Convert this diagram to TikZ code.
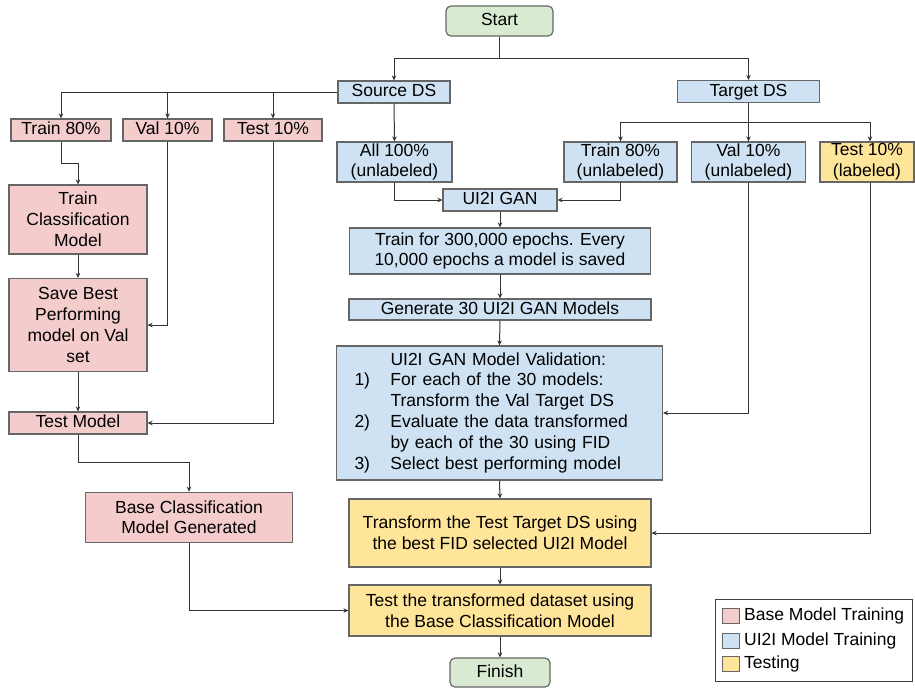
\documentclass[tikz,border=0pt]{standalone}
\usepackage{fontspec}
\setmainfont{Liberation Sans}
\usetikzlibrary{arrows.meta}
\definecolor{pinkc}{HTML}{F4CCCC}
\definecolor{bluec}{HTML}{CFE2F3}
\definecolor{yellowc}{HTML}{FFE599}
\definecolor{greenc}{HTML}{D9EAD3}
\definecolor{edgec}{HTML}{666666}
\definecolor{linec}{HTML}{333333}
\begin{document}
\begin{tikzpicture}[x=1pt,y=-1pt,
  font=\fontsize{17.5}{20.8}\selectfont,
  boxbase/.style={draw=edgec, line width=1.2pt, align=center, inner xsep=3pt, inner ysep=1pt, text=black},
  pinkbox/.style={boxbase, fill=pinkc},
  bluebox/.style={boxbase, fill=bluec},
  yellowbox/.style={boxbase, fill=yellowc},
  termbox/.style={boxbase, fill=greenc, rounded corners=5pt},
  sz/.style 2 args={minimum width=#1, minimum height=#2},
  oneline/.style={text height=12.5pt, text depth=3.5pt},
  conn/.style={draw=linec, line width=1pt, -{Stealth[length=5pt,width=4.5pt]}},
  swatch/.style={draw=edgec, line width=1pt, inner sep=0pt, minimum width=17, minimum height=15}]

\useasboundingbox (0,0) rectangle (915,688);

% top
\node[termbox, sz={107}{30}, oneline] (start) at (499.5,21) {Start};
\node[bluebox, sz={112}{22}, oneline] (srcds) at (394,92) {Source DS};
\node[bluebox, sz={142}{22}, oneline] (tgtds) at (748.5,91.5) {Target DS};

% source splits
\node[pinkbox, sz={100}{22}, oneline] (ltrain) at (61,130) {Train 80\%};
\node[pinkbox, sz={89}{22}, oneline] (lval) at (167.5,130) {Val 10\%};
\node[pinkbox, sz={98}{22}, oneline] (ltest) at (273,130) {Test 10\%};
\node[bluebox, sz={115}{40}] (all) at (394.5,162) {All 100\%\\(unlabeled)};

% target splits
\node[bluebox, sz={113}{40}] (tr80u) at (620.5,162) {Train 80\%\\(unlabeled)};
\node[bluebox, sz={114}{40}] (val10u) at (748.5,162) {Val 10\%\\(unlabeled)};
\node[yellowbox, sz={94}{40}] (test10l) at (867,162) {Test 10\%\\(labeled)};

% main column
\node[bluebox, sz={114}{22}, oneline] (gan) at (500,200) {UI2I GAN};
\node[bluebox, sz={301}{46}] (train300) at (500,251) {Train for 300,000 epochs. Every\\10,000 epochs a model is saved};
\node[bluebox, sz={302}{21}, oneline] (gen30) at (500,309.5) {Generate 30 UI2I GAN Models};
\node[bluebox, sz={325}{134}, text width=290pt, inner xsep=18pt, align=left] (valid) at (499.5,413)
  {\begin{tabular}{@{}p{36pt}@{}l@{}}
    & UI2I GAN Model Validation:\\
   1) & For each of the 30 models:\\
      & Transform the Val Target DS\\
   2) & Evaluate the data transformed\\
      & by each of the 30 using FID\\
   3) & Select best performing model
  \end{tabular}};
\node[yellowbox, sz={302}{68}] (transf) at (500,533) {Transform the Test Target DS using\\the best FID selected UI2I Model};
\node[yellowbox, sz={302}{51}] (testtr) at (500,610.5) {Test the transformed dataset using\\the Base Classification Model};
\node[termbox, sz={100}{29}, oneline] (finish) at (500,672.5) {Finish};

% left column
\node[pinkbox, sz={138}{69}] (traincls) at (78,219.5) {Train\\Classification\\Model};
\node[pinkbox, sz={138}{93}] (savebest) at (78,325) {Save Best\\Performing\\model on Val\\set};
\node[pinkbox, sz={138}{22}, oneline] (testmodel) at (78,423) {Test Model};
\node[pinkbox, sz={207}{50}] (basecls) at (189,517.3) {Base Classification\\Model Generated};

% legend
\node[draw=black!75, line width=1pt, sz={197}{82}] (legend) at (813.5,640) {};
\node[swatch, fill=pinkc] (sw1) at (730.5,616) {};
\node[swatch, fill=bluec] (sw2) at (730.5,640.5) {};
\node[swatch, fill=yellowc] (sw3) at (730.5,664) {};
\node[anchor=west, inner sep=0pt, oneline] (lt1) at (744,616) {Base Model Training};
\node[anchor=west, inner sep=0pt, oneline] (lt2) at (744,640.5) {UI2I Model Training};
\node[anchor=west, inner sep=0pt, oneline] (lt3) at (744,664) {Testing};

% connectors
\draw[conn] (start.south) -- ++(0,21.7) -| (srcds.north);
\draw[conn] (start.south) -- ++(0,21.7) -| (tgtds.north);
\draw[conn] (srcds.west) -| (ltrain.north);
\draw[conn] (srcds.west) -| (lval.north);
\draw[conn] (srcds.west) -| (ltest.north);
\draw[conn] (srcds.south) -- (all.north);
\draw[conn] (all.south) |- (gan.west);
\draw[conn] (tgtds.south) -- (val10u.north);
\draw[conn] (tgtds.south) -- ++(0,19) -| (tr80u.north);
\draw[conn] (tgtds.south) -- ++(0,19) -| ([xshift=3pt]test10l.north);
\draw[conn] (tr80u.south) |- (gan.east);
\draw[conn] (gan.south) -- (train300.north);
\draw[conn] (train300.south) -- (gen30.north);
\draw[conn] (gen30.south) -- (valid.north);
\draw[conn] (valid.south) -- (transf.north);
\draw[conn] (transf.south) -- (testtr.north);
\draw[conn] (testtr.south) -- (finish.north);
\draw[conn] (val10u.south) |- (valid.east);
\draw[conn] ([xshift=3pt]test10l.south) |- (transf.east);
\draw[conn] (ltrain.south) -- ++(0,22) -| (traincls.north);
\draw[conn] (lval.south) |- (savebest.east);
\draw[conn] (ltest.south) |- (testmodel.east);
\draw[conn] (traincls.south) -- (savebest.north);
\draw[conn] (savebest.south) -- (testmodel.north);
\draw[conn] (testmodel.south) -- ++(0,28) -| (basecls.north);
\draw[conn] (basecls.south) |- (testtr.west);
\end{tikzpicture}
\end{document}
